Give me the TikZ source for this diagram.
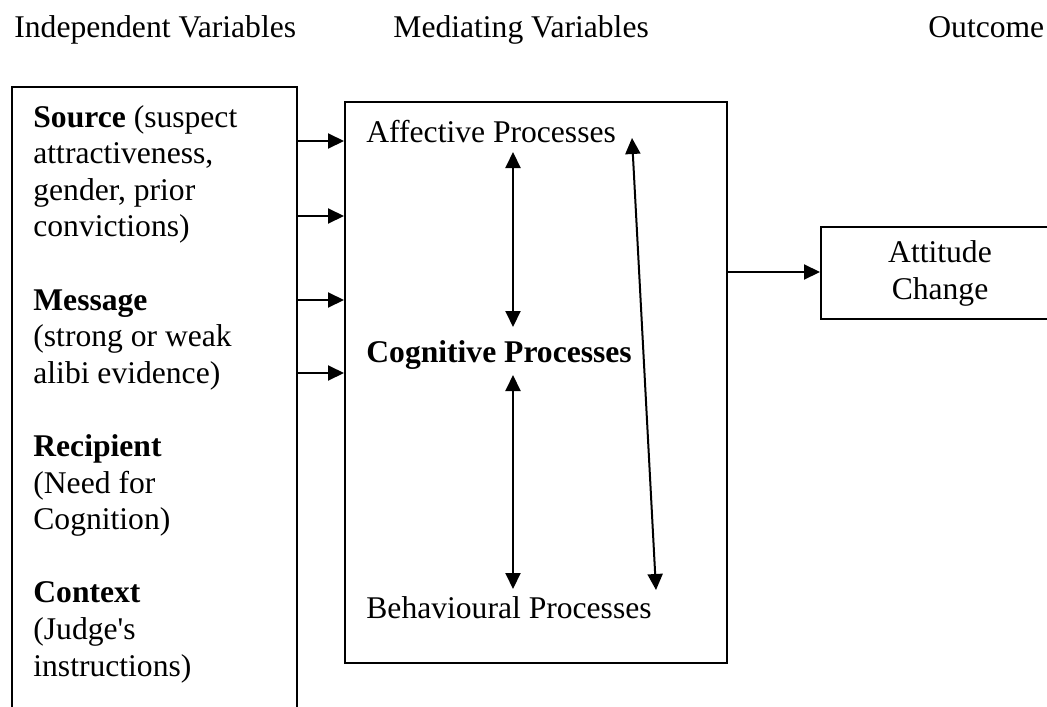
\documentclass[tikz,border=0pt]{standalone}
\usepackage{fontspec}
\setmainfont{Liberation Serif}
\usetikzlibrary{arrows.meta,calc,fit}

\begin{document}
\begin{tikzpicture}[x=0.5pt,y=-0.5pt,
  every node/.style={inner sep=0pt,font=\fontsize{15.8}{18.3}\selectfont},
  box/.style={draw,line width=1pt,inner sep=0pt},
  lbl/.style={anchor=base west,align=left},
  arr/.style={-{Triangle[length=8pt,width=7.5pt]},line width=1pt},
  dbl/.style={{Triangle[length=8pt,width=7.5pt]}-{Triangle[length=8pt,width=7.5pt]},line width=1pt}]
\useasboundingbox (0,0) rectangle (1047,706);
\clip (0,0) rectangle (1047,706);
% column heads
\node[lbl] (hiv)  at (14,38)  {Independent Variables};
\node[lbl] (hmed) at (393,38) {Mediating Variables};
\node[lbl] (hout) at (928,38) {Outcome};
% boxes
\node[box,fit={(12,87) (297,740)}]  (ivbox)  {};
\node[box,fit={(345,102) (727,663)}] (medbox) {};
\node[box,fit={(821,227) (1080,319)}] (outbox) {};
% independent variables (base = last line)
\node[lbl] (ivtext) at (33,676) {\textbf{Source} (suspect\\attractiveness,\\gender, prior\\convictions)\\[18.3pt]
  \textbf{Message}\\(strong or weak\\alibi evidence)\\[18.3pt]
  \textbf{Recipient}\\(Need for\\Cognition)\\[18.3pt]
  \textbf{Context}\\(Judge\textquotesingle s\\instructions)};
% mediators
\node[lbl] (aff) at (366,142) {Affective Processes};
\node[lbl] (cog) at (366,362) {\textbf{Cognitive Processes}};
\node[lbl] (beh) at (366,618) {Behavioural Processes};
\node[align=center,anchor=base] (att) at (940,299) {Attitude\\Change};
% inputs
\foreach \yy in {141,216,300,373}
  \draw[arr] (ivbox.east |- 0,\yy) -- (medbox.west |- 0,\yy);
\draw[arr] (medbox.east |- 0,272) -- (outbox.west |- 0,272);
% links between processes
\draw[dbl] ($(aff.base -| 513,0)+(0,10)$) -- ($(cog.base -| 513,0)+(0,-35)$);
\draw[dbl] ($(cog.base -| 513,0)+(0,13)$) -- ($(beh.base -| 513,0)+(0,-29)$);
\draw[dbl] ($(aff.base -| 632,0)+(0,-4)$) -- ($(beh.base -| 656,0)+(0,-28)$);
\end{tikzpicture}
\end{document}
